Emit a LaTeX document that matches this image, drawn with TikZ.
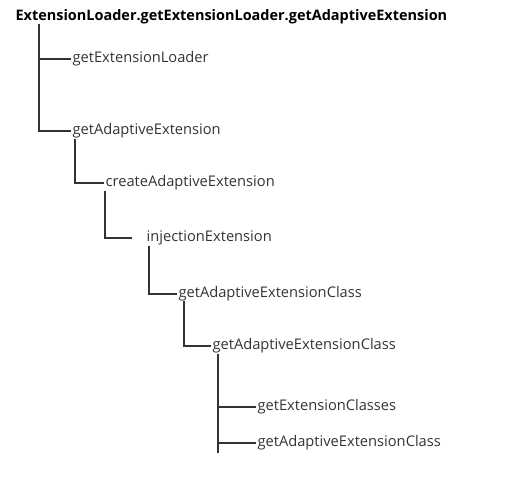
\documentclass[tikz,border=0pt]{standalone}
\usepackage{fontspec}
\setmainfont{Open Sans}
\definecolor{inkgray}{HTML}{333333}
\begin{document}
\begin{tikzpicture}[x=0.75pt, y=-0.75pt,
    call/.style={anchor=west, inner sep=1pt, text=inkgray, font=\fontsize{11}{13}\selectfont},
    rootcall/.style={call, font=\fontsize{10.85}{13}\selectfont\bfseries, text=black},
    branch/.style={draw=inkgray, line width=1.5pt}]
    \useasboundingbox (0,0) rectangle (528,485);

    % 调用链的节点
    \node[rootcall] (root) at (14,17) {ExtensionLoader.getExtensionLoader.getAdaptiveExtension};
    \node[call] (loader) at (71,59) {getExtensionLoader};
    \node[call] (adaptive) at (71,131) {getAdaptiveExtension};
    \node[call] (create) at (104,183) {createAdaptiveExtension};
    \node[call] (inject) at (145,238) {injectionExtension};
    \node[call] (classA) at (177,294) {getAdaptiveExtensionClass};
    \node[call] (classB) at (211,346) {getAdaptiveExtensionClass};
    \node[call] (classes) at (256,407) {getExtensionClasses};
    \node[call] (classC) at (256,443) {getAdaptiveExtensionClass};

    % 竖线的起点
    \coordinate (t1) at (39,24);
    \coordinate (t2) at (75,139);
    \coordinate (t3) at (105,191);
    \coordinate (t4) at (149,246);
    \coordinate (t5) at (184,301);
    \coordinate (t6) at (218,354);
    \coordinate (t6end) at (218,453);

    % 连线
    \draw[branch] (t1) |- (loader.west);
    \draw[branch] (t1) |- (adaptive.west);
    \draw[branch] (t2) |- (create.west);
    \draw[branch] (t3) |- ([xshift=-10]inject.west);
    \draw[branch] (t4) |- (classA.west);
    \draw[branch] (t5) |- (classB.west);
    \draw[branch] (t6) -- (t6end);
    \draw[branch] (t6 |- classes.west) -- (classes.west);
    \draw[branch] (t6 |- classC.west) -- (classC.west);
\end{tikzpicture}
\end{document}
